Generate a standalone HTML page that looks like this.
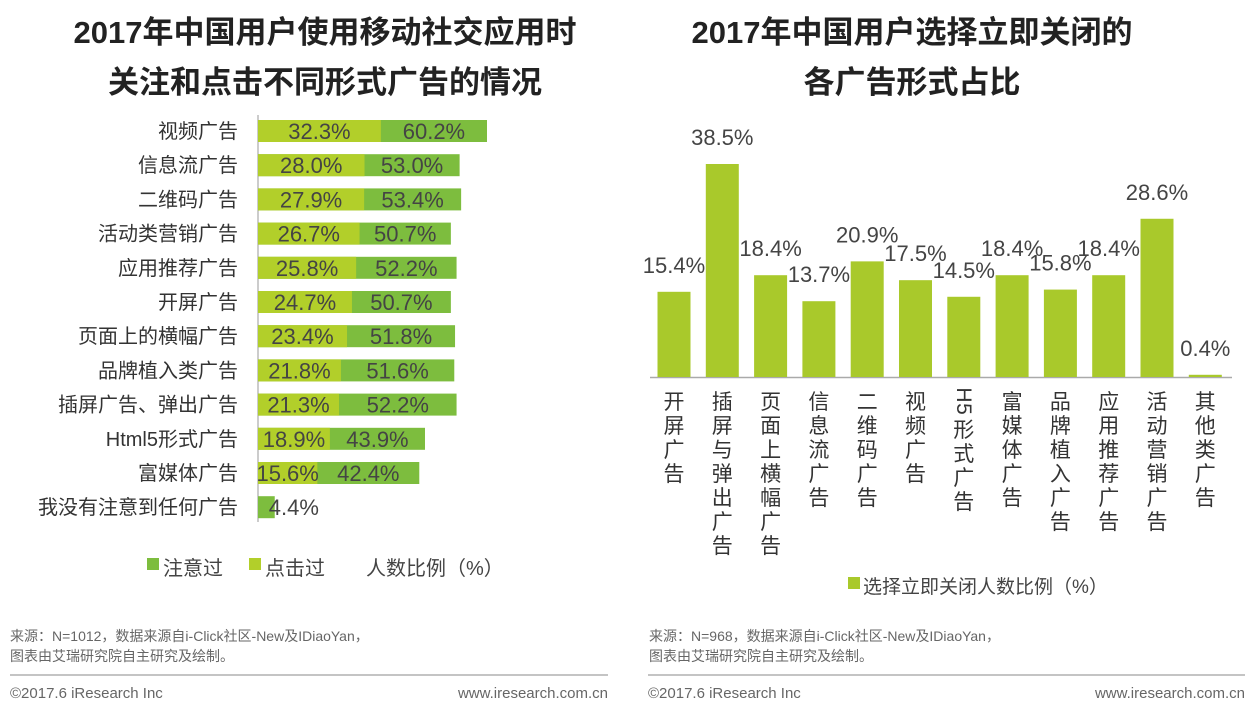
<!DOCTYPE html>
<html><head><meta charset="utf-8"><style>
body{margin:0;background:#fff;}
svg text{font-family:"Liberation Sans","Noto Sans CJK SC",sans-serif;}
</style></head><body>
<svg width="1255" height="705" viewBox="0 0 1255 705" xmlns="http://www.w3.org/2000/svg">
<text x="325" y="43" text-anchor="middle" font-size="31" font-weight="bold" fill="#222">2017年中国用户使用移动社交应用时</text>
<text x="325" y="93" text-anchor="middle" font-size="31" font-weight="bold" fill="#222">关注和点击不同形式广告的情况</text>
<text x="912" y="43" text-anchor="middle" font-size="31" font-weight="bold" fill="#222">2017年中国用户选择立即关闭的</text>
<text x="912" y="93" text-anchor="middle" font-size="31" font-weight="bold" fill="#222">各广告形式占比</text>
<line x1="258" y1="115" x2="258" y2="522" stroke="#999" stroke-width="1"/>
<line x1="650" y1="377.5" x2="1232" y2="377.5" stroke="#aaa" stroke-width="1.5"/>
<g id="left"></g>
<g id="right"></g>
<rect x="147" y="558" width="12" height="12" fill="#7dbd3e"/>
<text x="163" y="575" font-size="20" fill="#444">注意过</text>
<rect x="249" y="558" width="12" height="12" fill="#b2cf2a"/>
<text x="265" y="575" font-size="20" fill="#444">点击过</text>
<text x="366" y="575" font-size="20" fill="#444">人数比例（%）</text>
<rect x="848" y="577" width="12" height="12" fill="#a9c92b"/>
<text x="863" y="593" font-size="19" fill="#444">选择立即关闭人数比例（%）</text>
<text x="10" y="641" font-size="14" fill="#666">来源：N=1012，数据来源自i-Click社区-New及IDiaoYan，</text>
<text x="10" y="661" font-size="14" fill="#666">图表由艾瑞研究院自主研究及绘制。</text>
<text x="649" y="641" font-size="14" fill="#666">来源：N=968，数据来源自i-Click社区-New及IDiaoYan，</text>
<text x="649" y="661" font-size="14" fill="#666">图表由艾瑞研究院自主研究及绘制。</text>
<line x1="10" y1="675" x2="608" y2="675" stroke="#888"/>
<line x1="648" y1="675" x2="1245" y2="675" stroke="#888"/>
<text x="10" y="698" font-size="15" fill="#666">©2017.6 iResearch Inc</text>
<text x="608" y="698" text-anchor="end" font-size="15" fill="#666">www.iresearch.com.cn</text>
<text x="648" y="698" font-size="15" fill="#666">©2017.6 iResearch Inc</text>
<text x="1245" y="698" text-anchor="end" font-size="15" fill="#666">www.iresearch.com.cn</text>
</svg>
<script>
const leftCategories = ["视频广告","信息流广告","二维码广告","活动类营销广告","应用推荐广告","开屏广告","页面上的横幅广告","品牌植入类广告","插屏广告、弹出广告","Html5形式广告","富媒体广告","我没有注意到任何广告"];
const clickedValues = [32.3,28.0,27.9,26.7,25.8,24.7,23.4,21.8,21.3,18.9,15.6,null];
const noticedValues = [60.2,53.0,53.4,50.7,52.2,50.7,51.8,51.6,52.2,43.9,42.4,4.4];
const rightCategories = ["开屏广告","插屏与弹出广告","页面上横幅广告","信息流广告","二维码广告","视频广告","H5形式广告","富媒体广告","品牌植入广告","应用推荐广告","活动营销广告","其他类广告"];
const closeValues = [15.4,38.5,18.4,13.7,20.9,17.5,14.5,18.4,15.8,18.4,28.6,0.4];

const NS="http://www.w3.org/2000/svg";
function mk(tag,attrs,parent){const e=document.createElementNS(NS,tag);for(const k in attrs)e.setAttribute(k,attrs[k]);parent.appendChild(e);return e;}
const L=document.getElementById('left');
const x0=258, xs=229/60.2, y0=131, ystep=34.2, bh=22;
const xL=v=>x0+v*xs;
const yL=i=>y0+i*ystep;
leftCategories.forEach((c,i)=>{
  const cy=yL(i);
  const t=mk('text',{x:238,y:cy+7,'text-anchor':'end','font-size':20,fill:'#333'},L);
  t.textContent=c;
  
  
  const n=noticedValues[i], k=clickedValues[i];
  const r=mk('rect',{x:x0,y:cy-bh/2,width:xL(n)-x0,height:bh,fill:'#7dbd3e'},L);
  
  
  if(k!==null){
    const r2=mk('rect',{x:x0,y:cy-bh/2,width:xL(k)-x0,height:bh,fill:'#b2cf2a'},L);
    
    
    const t1=mk('text',{x:(x0+xL(k))/2,y:cy+8,'text-anchor':'middle','font-size':22,fill:'#444'},L);
    t1.textContent=k.toFixed(1)+'%';
    
    
    const t2=mk('text',{x:(xL(k)+xL(n))/2,y:cy+8,'text-anchor':'middle','font-size':22,fill:'#444'},L);
    t2.textContent=n.toFixed(1)+'%';
    
    
  } else {
    const t2=mk('text',{x:xL(n)-6,y:cy+8,'font-size':22,fill:'#444'},L);
    t2.textContent=n.toFixed(1)+'%';
    
    
  }
});
const R=document.getElementById('right');
const base=377, ys=213/38.5, cx0=674, cstep=48.3, bw=33;
const yR=v=>base-v*ys;
const xR=i=>cx0+i*cstep;
rightCategories.forEach((c,i)=>{
  const cx=xR(i), v=closeValues[i];
  const r=mk('rect',{x:cx-bw/2,y:yR(v),width:bw,height:base-yR(v),fill:'#a9c92b'},R);
  
  
  const t=mk('text',{x:cx,y:yR(v)-19,'text-anchor':'middle','font-size':22,fill:'#444'},R);
  t.textContent=v.toFixed(1)+'%';
  
  
  const g=mk('g',{},R);
  
  
  let y=409;
  [...c].forEach(ch=>{
    if(/[A-Za-z0-9]/.test(ch)){
      const s=mk('text',{x:0,y:0,'font-size':21,fill:'#333','text-anchor':'middle',transform:`translate(${cx-7},${y-14}) rotate(90)`},g);
      s.textContent=ch;
      y+=14;
    } else {
      const s=mk('text',{x:cx,y:y,'font-size':21,fill:'#333','text-anchor':'middle'},g);
      s.textContent=ch;
      y+=24;
    }
  });
});
</script>
</body></html>
